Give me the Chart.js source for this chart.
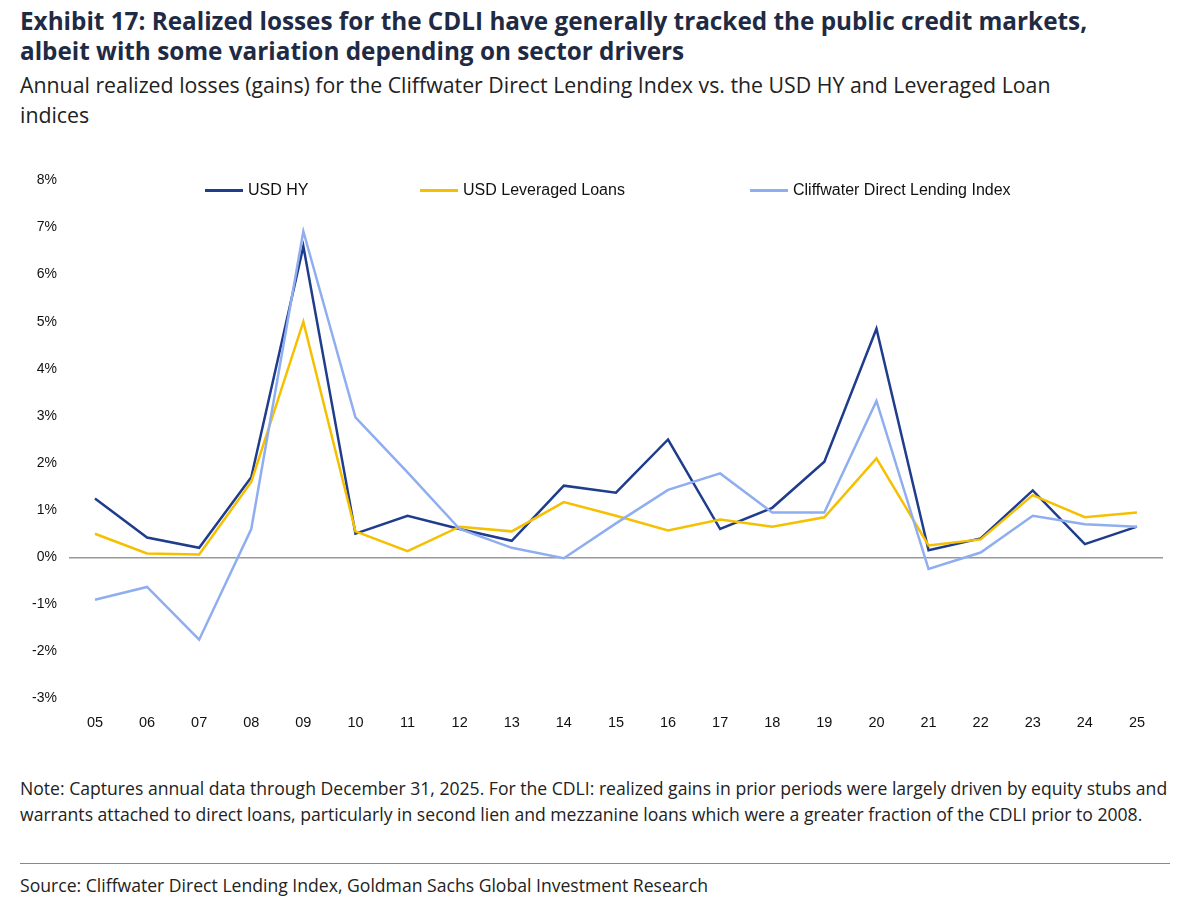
<!DOCTYPE html>
<html><head><meta charset="utf-8">
<script src="https://cdn.jsdelivr.net/npm/chart.js@4"></script>
<style>
body{margin:0;background:#fff;font-family:"Open Sans","Noto Sans",sans-serif;color:#1f2a44;width:1200px;height:917px;position:relative;overflow:hidden}
#t{position:absolute;left:20px;top:6px;font-weight:bold;font-size:24.3px;line-height:30px;color:#1f2a44;font-family:"Open Sans",sans-serif;white-space:nowrap}
#s{position:absolute;left:20px;top:70px;font-size:21.3px;line-height:30px;color:#222;white-space:nowrap}
#c{position:absolute;left:0;top:160px;width:1200px;height:600px}
.lg{position:absolute;top:181px;font-family:"Liberation Sans",Arial,sans-serif;font-size:16px;color:#111;display:flex;align-items:center}
.lg i{display:inline-block;width:38px;height:3px;margin-right:5px}
#n{position:absolute;left:20px;top:775px;width:1160px;font-size:17.6px;line-height:26px;color:#222}
#hr{position:absolute;left:20px;top:863px;width:1150px;border-top:1px solid #888}
#src{position:absolute;left:20px;top:873px;font-size:17.6px;color:#222}
</style></head><body>
<div id="t">Exhibit 17: Realized losses for the CDLI have generally tracked the public credit markets,<br>albeit with some variation depending on sector drivers</div>
<div id="s">Annual realized losses (gains) for the Cliffwater Direct Lending Index vs. the USD HY and Leveraged Loan<br>indices</div>
<div id="c"><canvas id="cv"></canvas></div>
<div class="lg" style="left:205px"><i style="background:#1f3d8c"></i>USD HY</div>
<div class="lg" style="left:420px"><i style="background:#f5c000"></i>USD Leveraged Loans</div>
<div class="lg" style="left:750px"><i style="background:#8faef0"></i>Cliffwater Direct Lending Index</div>
<div id="n">Note: Captures annual data through December 31, 2025. For the CDLI: realized gains in prior periods were largely driven by equity stubs and warrants attached to direct loans, particularly in second lien and mezzanine loans which were a greater fraction of the CDLI prior to 2008.</div>
<div id="hr"></div>
<div id="src">Source: Cliffwater Direct Lending Index, Goldman Sachs Global Investment Research</div>
<script>
const years=["05","06","07","08","09","10","11","12","13","14","15","16","17","18","19","20","21","22","23","24","25"];
const usdHY=[1.25,0.42,0.2,1.7,6.6,0.5,0.88,0.6,0.35,1.52,1.37,2.5,0.6,1.05,2.03,4.85,0.15,0.4,1.42,0.28,0.65];
const usdLL=[0.5,0.08,0.06,1.6,5.0,0.55,0.13,0.65,0.55,1.17,0.88,0.57,0.8,0.65,0.85,2.1,0.25,0.38,1.32,0.85,0.95];
const cdli=[-0.9,-0.63,-1.75,0.6,6.92,2.97,1.8,0.6,0.2,-0.02,0.72,1.43,1.78,0.95,0.95,3.32,-0.25,0.1,0.88,0.7,0.65];
const ds=(l,d,c)=>({label:l,data:d,borderColor:c,backgroundColor:c,borderWidth:2.5,pointRadius:0,tension:0});
new Chart(document.getElementById('cv'),{type:'line',
data:{labels:years,datasets:[ds('Cliffwater Direct Lending Index',cdli,'#8faef0'),ds('USD Leveraged Loans',usdLL,'#f5c000'),ds('USD HY',usdHY,'#1f3d8c')]},
options:{responsive:true,maintainAspectRatio:false,animation:false,
layout:{padding:{top:10,right:37,left:20,bottom:20}},
plugins:{legend:{display:false},tooltip:{enabled:false}},
scales:{x:{offset:true,grid:{display:false},border:{display:false},ticks:{color:'#111',font:{family:'Liberation Sans',size:14.5},padding:8}},
y:{min:-3,max:8,ticks:{stepSize:1,color:'#111',font:{family:'Liberation Sans',size:14},callback:v=>v+'%',padding:12},
border:{display:false},grid:{drawTicks:false,color:c=>c.tick.value===0?'#999':'transparent',lineWidth:1.5}}}}});
</script></body></html>
